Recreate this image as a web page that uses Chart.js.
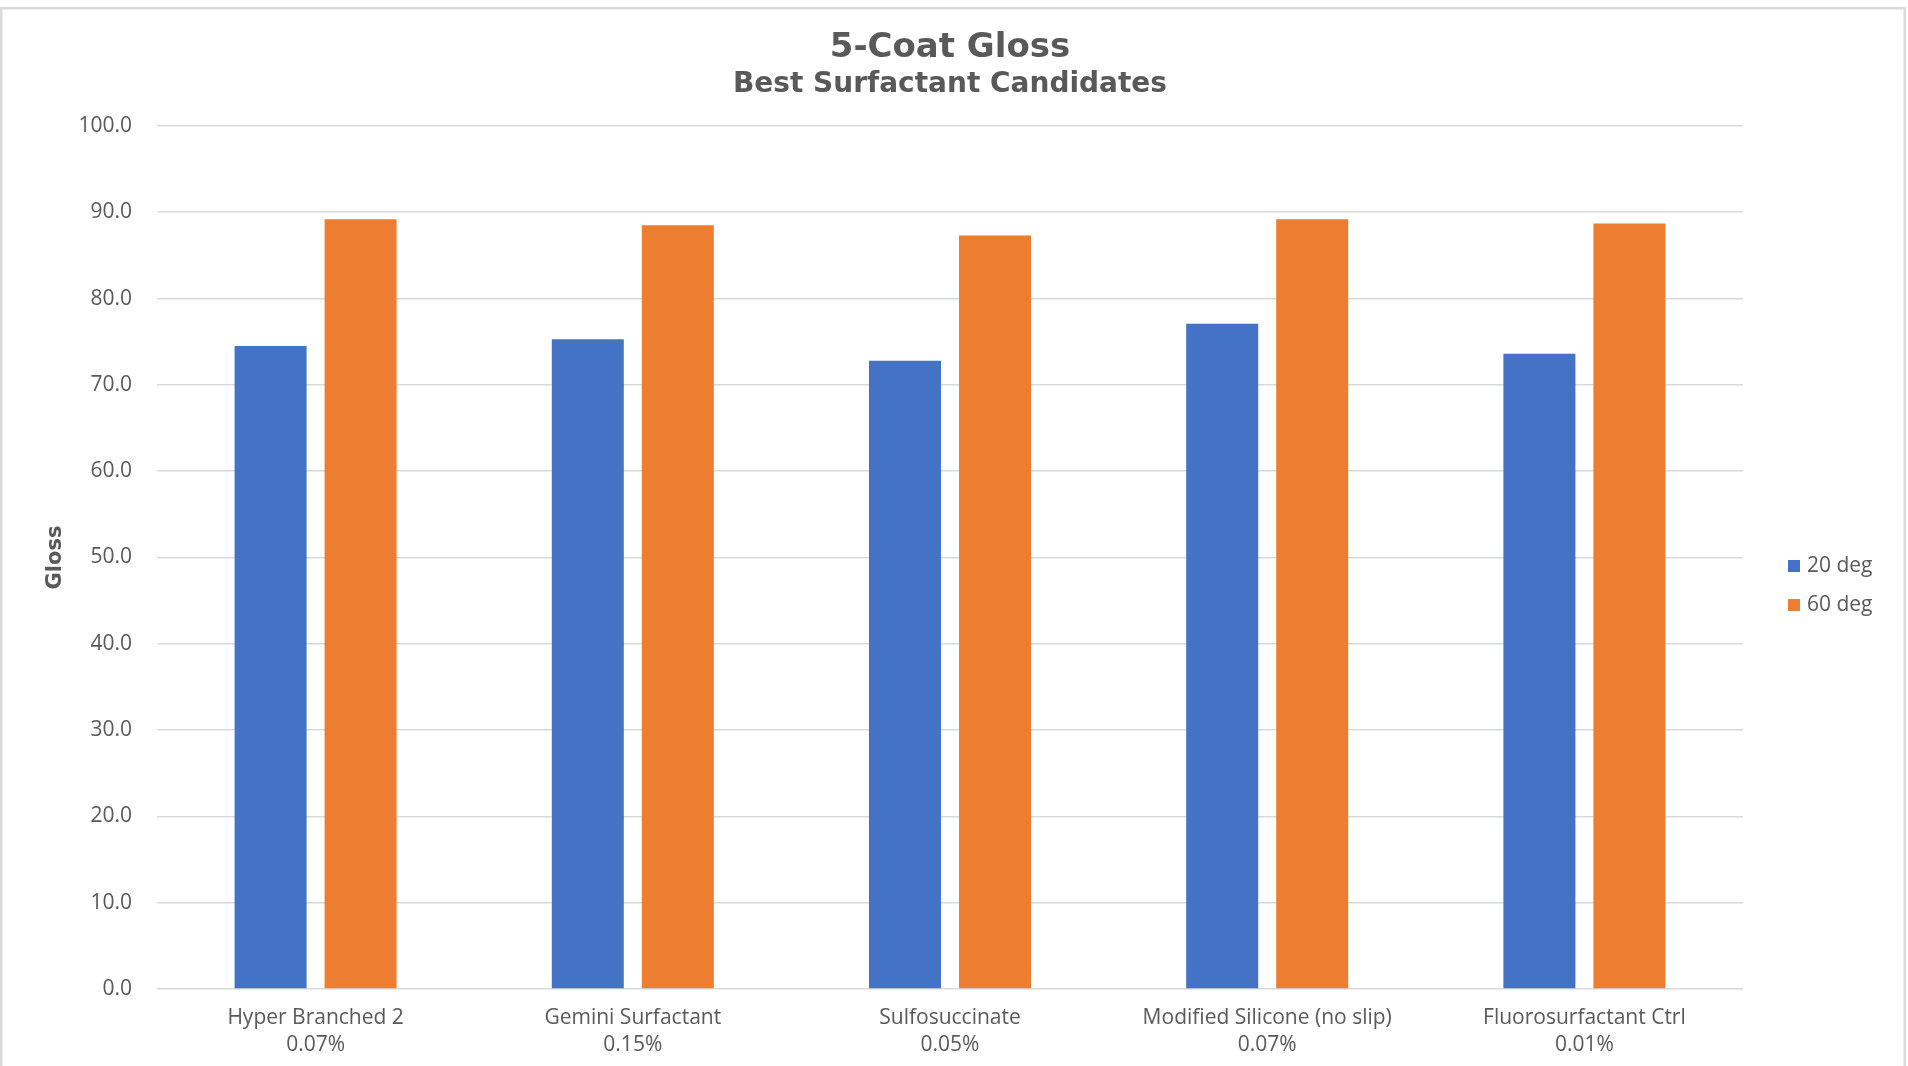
<!DOCTYPE html>
<html>
<head>
<meta charset="utf-8">
<style>
  html, body { margin: 0; padding: 0; background: #ffffff; }
  #c { display: block; }
</style>
<script src="https://cdn.jsdelivr.net/npm/chart.js@4.4.1/dist/chart.umd.min.js"></script>
</head>
<body>
<canvas id="c" width="1908" height="1066"></canvas>
<script>
// ---- Data ----
const categories = [
  ["Hyper Branched 2", "0.07%"],
  ["Gemini Surfactant", "0.15%"],
  ["Sulfosuccinate", "0.05%"],
  ["Modified Silicone (no slip)", "0.07%"],
  ["Fluorosurfactant Ctrl", "0.01%"]
];
const seriesNames = ["20 deg", "60 deg"];
const gloss20 = [74.5, 75.3, 72.8, 77.1, 73.6];
const gloss60 = [89.2, 88.5, 87.3, 89.2, 88.7];
const yTicksMin = 0;
const yTicksMax = 100;
const yTicksStep = 10;
const titleText = "5-Coat Gloss";
const subtitleText = "Best Surfactant Candidates";
const yAxisTitle = "Gloss";

const colors = ["#4472C4", "#ED7D31"];
const textColor = "#595959";
const gridColor = "#d9d9d9";
const tickFont = { family: "'Open Sans', 'Noto Sans', sans-serif", size: 21 };

const frame = {
  id: 'frame',
  beforeDraw(chart) {
    const ctx = chart.ctx;
    ctx.save();
    ctx.fillStyle = '#ffffff';
    ctx.fillRect(0, 0, chart.width, chart.height);
    ctx.strokeStyle = '#d9d9d9';
    ctx.lineWidth = 2.5;
    ctx.strokeRect(1.25, 8.25, 1903.5, 1070);
    ctx.restore();
  }
};

const customLegend = {
  id: 'customLegend',
  afterDraw(chart) {
    const ctx = chart.ctx;
    ctx.save();
    const x0 = 1788, ys = [566, 605];
    chart.data.datasets.forEach((ds, i) => {
      ctx.fillStyle = ds.backgroundColor;
      ctx.fillRect(x0, ys[i] - 6, 12, 12);
      ctx.fillStyle = textColor;
      ctx.font = "21px 'Open Sans', 'Noto Sans', sans-serif";
      ctx.textBaseline = 'middle';
      ctx.textAlign = 'left';
      ctx.fillText(ds.label, x0 + 19, ys[i]);
    });
    ctx.restore();
  }
};

new Chart(document.getElementById('c'), {
  type: 'bar',
  data: {
    labels: categories,
    datasets: [
      { label: seriesNames[0], data: gloss20, backgroundColor: colors[0] },
      { label: seriesNames[1], data: gloss60, backgroundColor: colors[1] }
    ]
  },
  options: {
    responsive: false,
    devicePixelRatio: 1,
    animation: false,
    layout: { padding: { left: 0, right: 8, top: 0, bottom: 0 } },
    datasets: { bar: { categoryPercentage: 0.5675, barPercentage: 0.8 } },
    plugins: {
      legend: { display: false },
      tooltip: { enabled: false },
      title: {
        display: true,
        text: titleText,
        color: textColor,
        font: { family: "'DejaVu Sans', sans-serif", size: 34, weight: 'bold', lineHeight: 1.0 },
        padding: { top: 31.5, bottom: 0 }
      },
      subtitle: {
        display: true,
        text: subtitleText,
        color: textColor,
        font: { family: "'DejaVu Sans', sans-serif", size: 28, weight: 'bold', lineHeight: 1.0 },
        padding: { top: 5, bottom: 27.5 }
      }
    },
    scales: {
      x: {
        grid: { display: false, drawTicks: false },
        border: { display: false },
        ticks: { color: textColor, font: { ...tickFont, lineHeight: 1.3 }, padding: 15, maxRotation: 0, autoSkip: false },
        afterFit(s) { s.height = 77; }
      },
      y: {
        min: yTicksMin,
        max: yTicksMax,
        grid: { color: gridColor, lineWidth: 1.6, drawTicks: false },
        border: { display: false },
        ticks: {
          stepSize: yTicksStep,
          color: textColor,
          font: tickFont,
          padding: 25,
          callback: v => Number(v).toFixed(1)
        },
        title: {
          display: true,
          text: yAxisTitle,
          color: textColor,
          font: { family: "'DejaVu Sans', sans-serif", size: 21, weight: 'bold', lineHeight: 1.2 },
          padding: { top: 42.5, bottom: 0 }
        },
        afterFit(s) { s.width = 157; }
      },
      legendSpace: {
        type: 'linear',
        position: 'right',
        display: true,
        grid: { display: false, drawTicks: false },
        border: { display: false },
        ticks: { display: false },
        afterFit(s) { s.width = 157; }
      }
    }
  },
  plugins: [frame, customLegend]
});
</script>
</body>
</html>
